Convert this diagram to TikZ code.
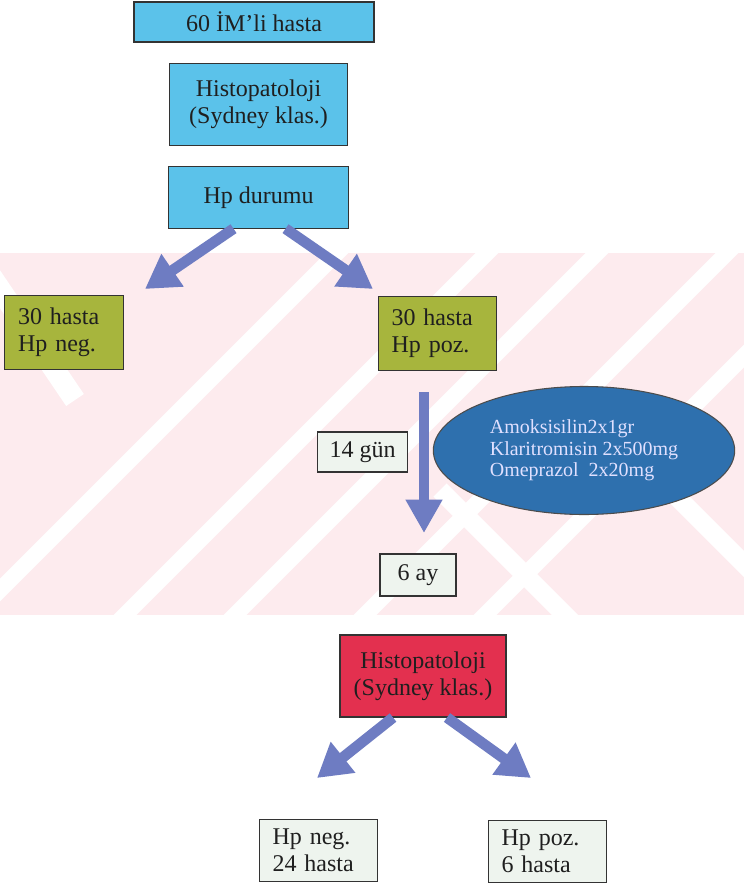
\documentclass[tikz,border=0pt]{standalone}
\usepackage{fontspec}
\setmainfont{Liberation Serif}
\usetikzlibrary{arrows.meta, positioning, shapes.geometric, calc}
\definecolor{skyfill}{HTML}{5BC2EA}
\definecolor{olivefill}{HTML}{A7B53D}
\definecolor{crimsonfill}{HTML}{E3304F}
\definecolor{palefill}{HTML}{EEF4EE}
\definecolor{pillblue}{HTML}{2E70AE}
\definecolor{arrowblue}{HTML}{6E7CC2}
\definecolor{wmpink}{HTML}{FDEBEE}
\definecolor{edgegrey}{HTML}{333333}
\tikzset{
  box/.style={rectangle, draw=edgegrey, line width=0.8pt, fill=skyfill, align=center,
    font=\fontsize{18}{20.5}\selectfont, text=black!88, inner sep=2pt},
  boxOlive/.style={box, fill=olivefill, align=left, text width=69pt, inner xsep=10pt, minimum height=55pt},
  boxRed/.style={box, fill=crimsonfill, minimum width=124.5pt, minimum height=61.5pt},
  boxPale/.style={box, fill=palefill},
  boxPaleL/.style={boxPale, align=left, text width=69pt, inner xsep=10pt, minimum height=47pt},
  pill/.style={ellipse, draw=black!70, line width=0.8pt, fill=pillblue, text=white!88!blue, align=left,
    font=\fontsize{15}{16.2}\selectfont, minimum width=226pt, minimum height=96pt, inner sep=0pt},
  fatarrow/.style={-{Triangle[width=28pt, length=25pt]}, line width=8pt, arrowblue},
  wmstripe/.style={white, line width=12pt},
}

\begin{document}
\begin{tikzpicture}[x=0.75pt, y=-0.75pt, node distance=15pt]
\useasboundingbox (0,0) rectangle (744,885);
% watermark band
\fill[wmpink] (0,253) rectangle (744,615);
\begin{scope}
  \clip (0,253) rectangle (744,615);
  \foreach \c in {590,740,850,980,1100}
    \draw[wmstripe] (\c-640,640) -- (\c-230,230);
  \draw[wmstripe, line width=16pt] (-30,245) -- (75,400);
  \draw[wmstripe, line width=14pt] (440,490) -- (600,650);
  \draw[wmstripe, line width=14pt] (660,480) -- (800,620);
\end{scope}

% top column
\node[box, minimum width=180pt, minimum height=30pt] (imhasta) at (254,22) {60 İM’li hasta};
\node[box, minimum width=134pt, minimum height=61.5pt, below=15pt of imhasta, xshift=3.4pt] (histo1) {Histopatoloji\\(Sydney klas.)};
\node[box, minimum width=135pt, minimum height=46pt, below=15.5pt of histo1] (hpdurum) {Hp durumu};

% split
\node[boxOlive] (hpneg) at (64,332.5) {30 hasta\\Hp neg.};
\node[boxOlive] (hppoz) at (437.5,333.5) {30 hasta\\Hp poz.};
\coordinate (negtip) at (145,289);
\coordinate (poztip) at (373,289);
\draw[fatarrow] ($(hpdurum.south)+(-25,0)$) -- (negtip);
\draw[fatarrow] ($(hpdurum.south)+(27,0)$) -- (poztip);

% treatment
\node[pill] (tedavi) at (584,450.5) {Amoksisilin2x1gr\\Klaritromisin 2x500mg\\Omeprazol~~2x20mg};
\node[boxPale, minimum width=67.5pt, minimum height=30pt] (gun) at (362.5,452) {14 gün};
\node[boxPale, minimum width=57pt, minimum height=31.5pt] (ay) at (418,575) {6 ay};
\coordinate (kurstart) at (424,392);
\coordinate (kurend) at (424,533);
\draw[fatarrow, line width=7pt, -{Triangle[width=26pt, length=25pt]}] (kurstart) -- (kurend);

% follow-up
\node[boxRed] (histo2) at (423,676) {Histopatoloji\\(Sydney klas.)};
\node[boxPaleL] (sonneg) at (318.5,850.5) {Hp neg.\\24 hasta};
\node[boxPaleL] (sonpoz) at (547.5,851.5) {Hp poz.\\6 hasta};
\coordinate (sonnegtip) at (317,778);
\coordinate (sonpoztip) at (531,778);
\draw[fatarrow] ($(histo2.south)+(-30,0)$) -- (sonnegtip);
\draw[fatarrow] ($(histo2.south)+(24,0)$) -- (sonpoztip);
\end{tikzpicture}
\end{document}
